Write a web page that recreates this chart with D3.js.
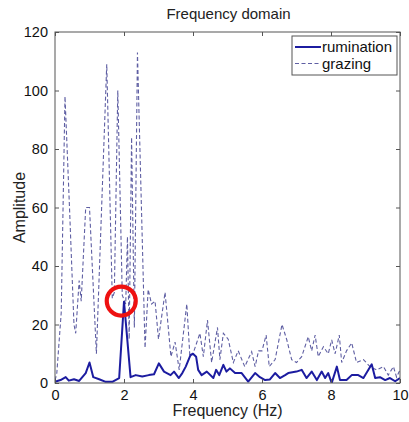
<!DOCTYPE html>
<html><head><meta charset="utf-8">
<script src="https://cdn.jsdelivr.net/npm/d3@7"></script>
<style>body{margin:0;background:#fff;}svg{display:block;font-family:"Liberation Sans",Arial,sans-serif;}</style>
</head><body><svg id="c" width="409" height="422"></svg>
<script>
const title = "Frequency domain";
const xLabel = "Frequency (Hz)";
const yLabel = "Amplitude";
const xTicks = [0, 2, 4, 6, 8, 10];
const yTicks = [0, 20, 40, 60, 80, 100, 120];
const seriesNames = ["rumination", "grazing"];

const grazingFreq = [0.0,0.05,0.18,0.29,0.42,0.55,0.6,0.7,0.76,0.89,1.0,1.2,1.5,1.66,1.72,1.82,1.95,2.05,2.1,2.15,2.22,2.3,2.39,2.61,2.7,2.8,2.9,3.0,3.19,3.36,3.48,3.6,3.82,3.91,4.0,4.2,4.3,4.42,4.54,4.71,4.78,4.88,5.02,5.17,5.31,5.5,5.7,5.8,5.9,6.0,6.12,6.21,6.38,6.58,6.72,6.86,7.0,7.15,7.34,7.44,7.54,7.63,7.78,7.92,8.02,8.12,8.24,8.31,8.45,8.6,8.74,8.94,9.13,9.32,9.52,9.66,9.81,9.9,10.0];
const grazingAmp  = [1,3,24,98,60,20,17,35,28,60,60,10,109,29,31,100,30,27,50,15,84,19,113,12,32,27,28,15,31,9,14,4.5,27,9,10,17,9,21.5,7,19,8,17,15,7,11,5.6,10.7,5.6,11,11,16.4,5.6,8,20,14.7,8,7,9,15.8,11,16.4,9,12.4,10,14.7,10,16.4,7,11,13.7,7,8,5.6,4.5,5.6,2.7,5.6,2,4.5];

const rumFreq = [0.02,0.16,0.31,0.4,0.55,0.7,0.89,1.0,1.11,1.28,1.47,1.66,1.86,2.0,2.19,2.34,2.53,2.72,2.87,3.01,3.16,3.35,3.45,3.59,3.69,3.79,3.93,4.0,4.09,4.15,4.25,4.4,4.59,4.67,4.76,4.88,4.97,5.07,5.22,5.41,5.6,5.8,5.94,6.09,6.23,6.38,6.52,6.67,6.76,7.0,7.15,7.29,7.44,7.59,7.73,7.83,7.92,8.02,8.17,8.26,8.45,8.6,8.79,8.94,9.18,9.28,9.42,9.57,9.71,9.86,10.0];
const rumAmp  = [0.5,1,2,0.8,1.3,0.7,3.4,7,2,1.3,0.4,0.4,1.7,27.8,2,2.7,2.2,2.7,3,6.7,3.9,2.7,3.9,1.7,3.4,5.6,9.6,10,9,4.5,2.7,3.9,1.7,4.5,2.7,6.2,3.9,5,3.4,3.4,0.5,3.4,2,1,1.2,3.4,1.7,2.7,3.4,3.9,4.5,1.7,3.9,1,3.9,1.7,3.4,0,5.6,1,1,2.7,2.7,1.7,6.4,1.7,2,1,1.7,0.6,1.7];

const highlight = {f: 1.92, a: 28};

const svg = d3.select("#c");
const L = 55, R = 400, T = 32, B = 383;
const x = d3.scaleLinear().domain([0, 10]).range([L, R]);
const y = d3.scaleLinear().domain([0, 120]).range([B, T]);
const axisCol = "#555";

const g = svg.append("g");
svg.append("clipPath").attr("id","cp").append("rect").attr("x",L).attr("y",T).attr("width",R-L).attr("height",B-T);

const line = d3.line().x(d => x(d[0])).y(d => y(d[1]));
const grazing = grazingFreq.map((f,i)=>[f, grazingAmp[i]]);
const rum = rumFreq.map((f,i)=>[f, rumAmp[i]]);

g.append("path").datum(grazing).attr("d", line).attr("fill","none")
 .attr("stroke","#5f5fa3").attr("stroke-width",1.1).attr("stroke-dasharray","4,2.5")
 .attr("clip-path","url(#cp)");
g.append("path").datum(rum).attr("d", line).attr("fill","none")
 .attr("stroke","#1c1ca0").attr("stroke-width",2).attr("stroke-linejoin","round")
 .attr("clip-path","url(#cp)");

g.append("rect").attr("x",L).attr("y",T).attr("width",R-L).attr("height",B-T)
 .attr("fill","none").attr("stroke",axisCol).attr("stroke-width",1);

const tl = 4;
const xb = g.append("g").attr("transform",`translate(0,${B})`)
 .call(d3.axisBottom(x).tickValues(xTicks).tickSizeInner(-tl).tickSizeOuter(0).tickPadding(7).tickFormat(d3.format("d")));
const xt = g.append("g").attr("transform",`translate(0,${T})`)
 .call(d3.axisTop(x).tickValues(xTicks).tickSizeInner(-tl).tickSizeOuter(0).tickFormat(""));
const yl = g.append("g").attr("transform",`translate(${L},0)`)
 .call(d3.axisLeft(y).tickValues(yTicks).tickSizeInner(-tl).tickSizeOuter(0).tickPadding(7).tickFormat(d3.format("d")));
const yr = g.append("g").attr("transform",`translate(${R},0)`)
 .call(d3.axisRight(y).tickValues(yTicks).tickSizeInner(-tl).tickSizeOuter(0).tickFormat(""));
[xb,xt,yl,yr].forEach(a=>{
  a.select(".domain").remove();
  a.selectAll("line").attr("stroke",axisCol);
  a.selectAll("text").attr("fill","#111").attr("font-size",14.5).attr("font-family",'"Liberation Sans",Arial,sans-serif');
});
xb.selectAll("text").attr("dy","0.71em");

g.append("circle").attr("cx",x(highlight.f)).attr("cy",y(highlight.a)).attr("r",14.5)
 .attr("fill","none").attr("stroke","#ee1111").attr("stroke-width",4.2);

svg.append("text").attr("x",(L+R)/2 + 1).attr("y",19).attr("text-anchor","middle")
 .attr("font-size",15).attr("fill","#222").text(title);
svg.append("text").attr("x",(L+R)/2).attr("y",416).attr("text-anchor","middle")
 .attr("font-size",16).attr("fill","#222").text(xLabel);
svg.append("text").attr("transform",`translate(25,${(T+B)/2}) rotate(-90)`).attr("text-anchor","middle")
 .attr("font-size",16).attr("fill","#222").text(yLabel);

const lg = svg.append("g");
lg.append("rect").attr("x",292).attr("y",36).attr("width",105).attr("height",39)
 .attr("fill","#fff").attr("stroke",axisCol).attr("stroke-width",1);
const rows = [{c:"#1c1ca0",w:2,d:null},{c:"#5f5fa3",w:1.1,d:"4,2.5"}];
rows.forEach((r,i)=>{
  const yy = 47 + i*16.5;
  lg.append("line").attr("x1",295).attr("x2",321).attr("y1",yy).attr("y2",yy)
    .attr("stroke",r.c).attr("stroke-width",r.w).attr("stroke-dasharray",r.d);
  lg.append("text").attr("x",322).attr("y",yy).attr("dy","0.35em").attr("font-size",15)
    .attr("fill","#111").text(seriesNames[i]);
});
</script></body></html>
